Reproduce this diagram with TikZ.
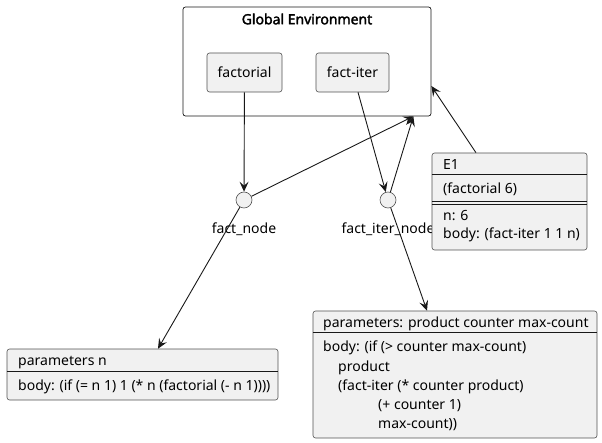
\documentclass[tikz,border=0pt]{standalone}
\usepackage{fontspec}
\setmainfont{Noto Sans}
\newfontfamily\titlefont{Noto Sans}[FakeBold=2.2]
\usetikzlibrary{arrows.meta,positioning,calc}
\definecolor{objfill}{HTML}{F1F1F1}
\definecolor{objline}{HTML}{181818}
\tikzset{
  envbox/.style  = {draw=objline, line width=0.7pt, rounded corners=2.5pt, fill=white},
  namebox/.style = {draw=objline!75, line width=0.6pt, rounded corners=2.5pt, fill=objfill},
  objbox/.style  = {draw=objline!75, line width=0.6pt, rounded corners=2.5pt, fill=objfill},
  dot/.style     = {draw=objline!75, circle, fill=objfill, inner sep=0pt,
                    minimum size=16pt, line width=0.6pt},
  row/.style     = {anchor=base west, inner sep=0pt},
  sep/.style     = {draw=objline, line width=0.9pt},
  link/.style    = {-{Stealth[length=10pt,width=9pt,inset=4pt]}, line width=0.9pt, draw=objline},
}

\begin{document}
\begin{tikzpicture}[x=1pt,y=-1pt,font=\fontsize{14}{17}\selectfont]
\useasboundingbox (0,0) rectangle (602,443);
% global environment
\node[envbox, minimum width=248pt, minimum height=109pt] (genv) at (307,61.5) {};
\node[font=\fontsize{14}{17}\titlefont] (gtitle) at (307,19) {Global Environment};
\node[namebox, minimum width=75pt, minimum height=39pt] (factorial) at (244.5,72.5) {factorial};
\node[namebox, minimum width=73pt, minimum height=39pt] (factiter) at (352.5,72.5) {fact-iter};
\coordinate (gport) at ([xshift=-18pt]genv.south east);

% procedure nodes
\node[dot] (factnode) at (244,200) {};
\node[dot] (factiternode) at (388,200) {};
\node[below=11pt of factnode] (factlbl) {fact\_node};
\node[below=11pt of factiternode] (factiterlbl) {fact\_iter\_node};

% frame E1
\node[objbox, minimum width=155pt, minimum height=97pt] (e1) at (509.5,201.5) {};
\node[row] (e1name) at (443,170) {E1};
\node[row] (e1call) at (443,194) {(factorial 6)};
\node[row] (e1n) at (443,221) {n: 6};
\node[row] (e1body) at (443,239) {body: (fact-iter 1 1 n)};
\draw[sep] (e1.west |- 0,174) -- (e1.east |- 0,174);
\draw[sep] (e1.west |- 0,201.5) -- (e1.east |- 0,201.5);
\draw[sep] (e1.west |- 0,204) -- (e1.east |- 0,204);

% parameters of factorial
\node[objbox, minimum width=271pt, minimum height=51pt] (paramsn) at (142.5,374.5) {};
\node[row] (pnhead) at (18,366) {parameters n};
\node[row] (pnbody) at (18,390) {body: (if (= n 1) 1 (* n (factorial (- n 1))))};
\draw[sep] (paramsn.west |- 0,371) -- (paramsn.east |- 0,371);

% parameters of fact-iter
\node[objbox, minimum width=284pt, minimum height=127pt] (paramsfi) at (455,374.5) {};
\node[row] (pfhead) at (323,328) {parameters: product counter max-count};
\draw[sep] (paramsfi.west |- 0,332) -- (paramsfi.east |- 0,332);
\node[row] (pfb1) at (323,352) {body: (if (> counter max-count)};
\node[row] (pfb2) at (338,371) {product};
\node[row] (pfb3) at (338,390) {(fact-iter (* counter product)};
\node[row] (pfb4) at (378,409) {(+ counter 1)};
\node[row] (pfb5) at (378,428) {max-count))};

% links
\draw[link] (factorial) -- (factnode);
\draw[link] (factiter) -- (factiternode);
\draw[link] (factnode) -- (gport);
\draw[link] (factiternode) -- (gport);
\draw[link] ([xshift=-33.5pt]e1.north) -- (genv.east |- 0,86);
\draw[link] (factnode) -- (paramsn.north -| 158,0);
\draw[link] (factiternode) -- (paramsfi.north -| 427,0);
\end{tikzpicture}
\end{document}
